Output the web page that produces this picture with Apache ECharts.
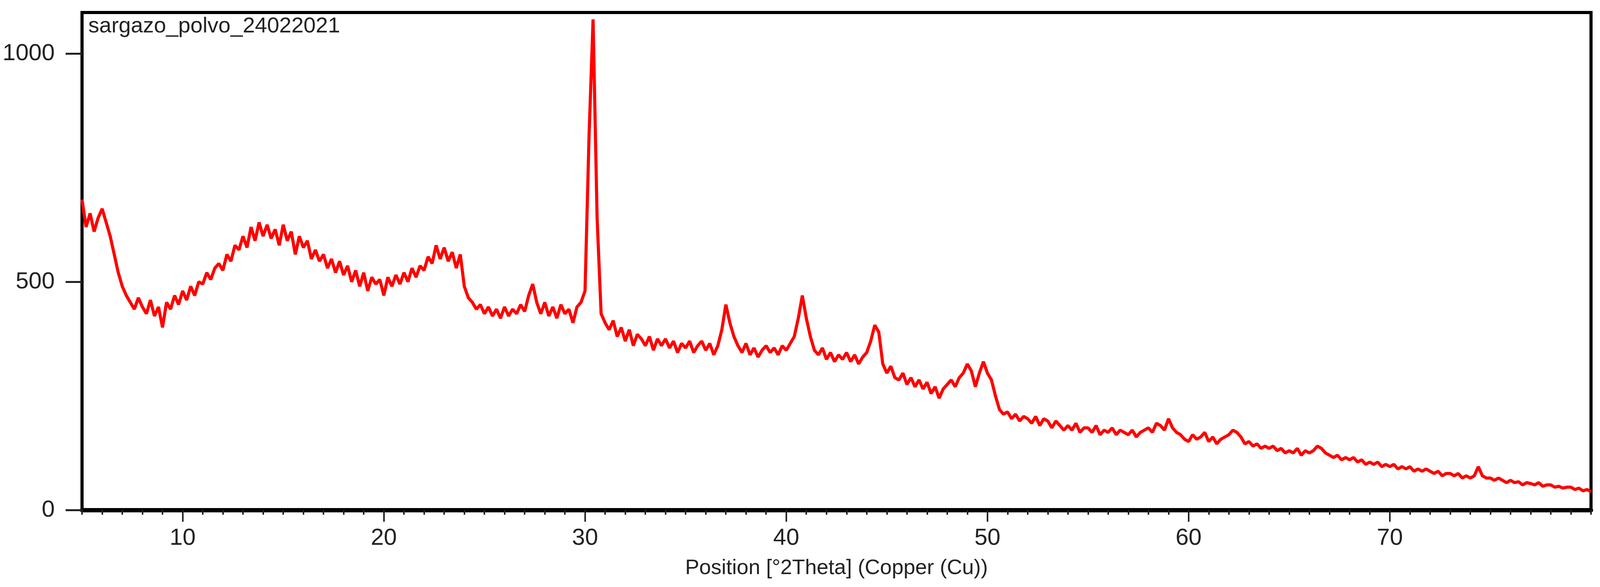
<!DOCTYPE html>
<html><head><meta charset="utf-8">
<script src="https://cdn.jsdelivr.net/npm/echarts@6/dist/echarts.min.js"></script>
<style>html,body{margin:0;padding:0;background:#fff}#c{width:4098px;height:1502px}</style>
</head><body><div id="c"></div>
<script>
const sampleName = 'sargazo_polvo_24022021';
const xAxisTitle = 'Position [°2Theta] (Copper (Cu))';
const thetaStart = 5.0;
const thetaStep = 0.2;
const counts = [
680,620,650,610,640, 660,630,600,560,520, 490,470,455,440,465, 445,430,460,425,445,
400,455,440,470,450, 480,460,490,470,500, 495,520,505,530,540, 525,560,545,580,570,
600,575,620,590,630, 600,625,595,615,580, 625,590,610,560,600, 575,590,550,570,545,
560,530,550,520,545, 515,535,500,525,490, 520,480,510,495,505, 470,510,490,515,495,
520,500,530,510,535, 525,555,540,580,550, 575,545,565,530,560, 490,465,455,440,450,
430,445,425,440,420, 445,425,440,430,450, 435,470,495,455,430, 455,425,445,420,450,
430,440,410,445,455, 480,820,1075,640,430, 410,395,415,380,400, 370,395,360,385,375,
360,380,350,375,360, 375,355,370,345,365, 355,370,345,360,370, 350,365,340,360,395,
450,410,380,360,345, 365,340,355,335,350, 360,345,355,340,360, 350,365,380,420,470,
420,380,350,340,355, 330,345,325,340,330, 345,325,340,320,335, 345,370,405,390,320,
300,315,290,285,300, 275,290,270,285,265, 280,255,270,245,265, 275,285,270,290,300,
320,305,270,300,325, 300,285,250,220,210, 215,200,210,195,205, 200,190,205,185,200,
195,180,195,185,175, 185,175,190,170,180, 180,170,185,165,175, 170,180,165,175,170,
165,175,160,170,175, 180,170,190,185,175, 200,180,170,165,155, 150,165,155,160,170,
150,160,145,155,160, 165,175,170,160,145, 150,140,145,135,140, 135,140,130,135,125,
130,125,135,120,130, 125,130,140,135,125, 120,115,120,110,115, 110,115,105,110,100,
105,100,105,95,100, 95,100,90,95,90, 95,85,90,85,90, 85,80,85,75,80,
80,75,80,70,75, 70,75,95,75,70, 70,65,70,65,60, 65,60,62,55,60,
58,55,60,52,55, 55,50,52,48,50, 50,45,48,42,45, 40
];
const xMajorTicks = [10,20,30,40,50,60,70];
const yTicks = [0,500,1000];

const data = counts.map((v,i)=>[+(thetaStart+i*thetaStep).toFixed(2), v]);
const minorTicks = [];
for (let t=5; t<=80; t++) minorTicks.push(t);

const chart = echarts.init(document.getElementById('c'));
const font = 'Liberation Sans, Arial, sans-serif';
chart.setOption({
  animation:false,
  grid:{left:210,right:25,top:32,bottom:197,show:true,borderColor:'#000',borderWidth:8,containLabel:false},
  graphic:[{type:'text',left:226,top:40,style:{text:sampleName,font:'56px '+font,fill:'#222'}}],
  xAxis:[{
    type:'value',min:5,max:80,
    axisLine:{show:true,lineStyle:{color:'#000',width:11}},
    axisTick:{show:true,length:30,lineStyle:{color:'#222',width:4},customValues:xMajorTicks},
    axisLabel:{show:true,customValues:xMajorTicks,margin:42,fontSize:60,color:'#222',fontFamily:font},
    splitLine:{show:false},
    name:xAxisTitle,nameLocation:'middle',nameGap:122,nameTextStyle:{fontSize:54,color:'#222',fontFamily:font}
  },{
    type:'value',min:5,max:80,position:'bottom',
    axisLine:{show:false},
    axisTick:{show:true,length:12,lineStyle:{color:'#222',width:4},customValues:minorTicks},
    axisLabel:{show:false},splitLine:{show:false}
  }],
  yAxis:{
    type:'value',min:0,max:1090,
    axisLine:{show:true,lineStyle:{color:'#000',width:8}},
    axisTick:{show:true,length:42,lineStyle:{color:'#222',width:5},customValues:yTicks},
    axisLabel:{show:true,customValues:yTicks,margin:70,fontSize:60,color:'#222',fontFamily:font,formatter:v=>String(v)},
    splitLine:{show:false}
  },
  series:[{type:'line',data:data,showSymbol:false,symbol:'none',lineStyle:{color:'#ff0000',width:8},clip:true}]
});
</script></body></html>
